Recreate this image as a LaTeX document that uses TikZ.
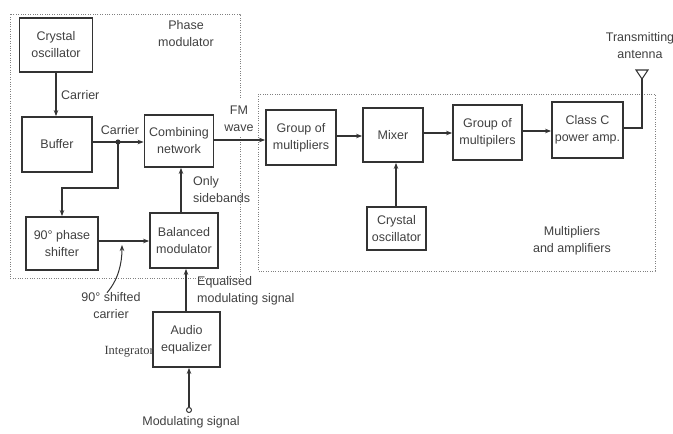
\documentclass[tikz,border=0pt]{standalone}
\usepackage{fontspec}
\setmainfont{Liberation Sans}
\newfontfamily\notefont{Liberation Serif}
\usetikzlibrary{arrows.meta}

\definecolor{ink}{HTML}{333333}
\definecolor{txt}{HTML}{404040}

\tikzset{
  block/.style={draw=ink, line width=1.8pt, align=center, inner sep=0pt,
    font=\fontsize{12.5}{17}\selectfont, text=txt},
  lbl/.style={align=left, inner sep=0pt, font=\fontsize{12.5}{17}\selectfont, text=txt},
  wire/.style={draw=ink, line width=1.3pt},
  arr/.style={wire, -{Stealth[length=6pt,width=4.5pt]}},
  group/.style={draw=gray, line width=0.9pt, dash pattern=on 1pt off 1.4pt},
}

\begin{document}
\begin{tikzpicture}[x=1pt,y=-1pt]
  \useasboundingbox (0,0) rectangle (673,434);

  % Outer groups
  \draw[group] (240,98) -- (240,14) -- (10,14) -- (10,278) -- (240,278) -- (240,136);
  \draw[group] (258,94) rectangle (655,271);

  % Define nodes
  \node[block, minimum width=73pt, minimum height=54pt] (osc_1) at (56,45)    {Crystal\\oscillator};
  \node[block, minimum width=70pt, minimum height=55pt] (buf)   at (57,144.5) {Buffer};
  \node[block, minimum width=69pt, minimum height=52pt] (comb)  at (179,141)  {Combining\\network};
  \node[block, minimum width=72pt, minimum height=53pt] (shift) at (62,243.5) {90° phase\\shifter};
  \node[block, minimum width=68pt, minimum height=55pt] (bal_mod) at (184,240.5) {Balanced\\modulator};
  \node[block, minimum width=67pt, minimum height=55pt] (eq)    at (186.5,339.5) {Audio\\equalizer};
  \node[block, minimum width=70pt, minimum height=55pt] (mult_1) at (301,137.5) {Group of\\multipliers};
  \node[block, minimum width=60pt, minimum height=54pt] (mixer) at (393,135)  {Mixer};
  \node[block, minimum width=69pt, minimum height=55pt] (mult_2) at (487.5,132.5) {Group of\\multipilers};
  \node[block, minimum width=71pt, minimum height=56pt] (amp_c) at (587.5,130) {Class C\\power amp.};
  \node[block, minimum width=59pt, minimum height=43pt] (osc_2) at (396.5,228.5) {Crystal\\oscillator};
  \node[draw=ink, circle, line width=1pt, inner sep=0pt, minimum size=5pt] (msig) at (189,410) {};

  \coordinate (jn)   at (118,142);
  \coordinate (bend) at (118,188);
  \coordinate (ant)  at (642,79);

  % Labels
  \node[lbl, align=center] (l_pm)   at (186,34)  {Phase\\modulator};
  \node[lbl, anchor=west]  (l_car1) at (61,95)   {Carrier};
  \node[lbl]               (l_car2) at (120,130) {Carrier};
  \node[lbl, align=center] (l_fm)   at (239,119) {FM\\wave};
  \node[lbl, anchor=west]  (l_sb)   at (193,190) {Only\\sidebands};
  \node[lbl, align=center] (l_90)   at (111,306) {90° shifted\\carrier};
  \node[lbl, anchor=west]  (l_eqs)  at (197,291) {Equalised\\modulating signal};
  \node[lbl, anchor=east, font=\notefont\fontsize{12.5}{15}\selectfont] (l_int) at (154,352) {Integrator};
  \node[lbl]               (l_ms)   at (191,422) {Modulating signal};
  \node[lbl, align=center] (l_ant)  at (640,46)  {Transmitting\\antenna};
  \node[lbl, align=center] (l_ma)   at (572,241) {Multipliers\\and amplifiers};

  % Connect the nodes
  \draw[arr] (osc_1.south) -- (osc_1.south |- buf.north);
  \draw[arr] (buf.east |- jn) -- (comb.west |- jn);
  \fill[ink] (jn) circle (2.6pt);
  \draw[arr] (jn) -- (bend) -| (shift.north);
  \draw[arr] (shift.east |- 0,241) -- (bal_mod.west |- 0,241);
  \draw[arr] (bal_mod.north -| 181,0) -- (comb.south -| 181,0);
  \draw[arr] (eq.north -| 186,0) -- (bal_mod.south -| 186,0);
  \draw[arr] (msig) -- (eq.south -| msig);
  \draw[arr, line width=1pt] (l_90.north) ++(-4,0) .. controls (118,280) and (122,264) .. (122,245);
  \draw[arr] (comb.east |- 0,140) -- (mult_1.west |- 0,140);
  \draw[arr] (mult_1.east |- 0,136) -- (mixer.west |- 0,136);
  \draw[arr] (mixer.east |- 0,133) -- (mult_2.west |- 0,133);
  \draw[arr] (mult_2.east |- 0,131) -- (amp_c.west |- 0,131);
  \draw[arr] (osc_2.north -| 396,0) -- (mixer.south -| 396,0);
  \draw[wire] (amp_c.east |- 0,128) -| (ant);
  \draw[draw=ink, line width=1.1pt] (ant) -- (636,70) -- (648,70) -- cycle;

\end{tikzpicture}
\end{document}
